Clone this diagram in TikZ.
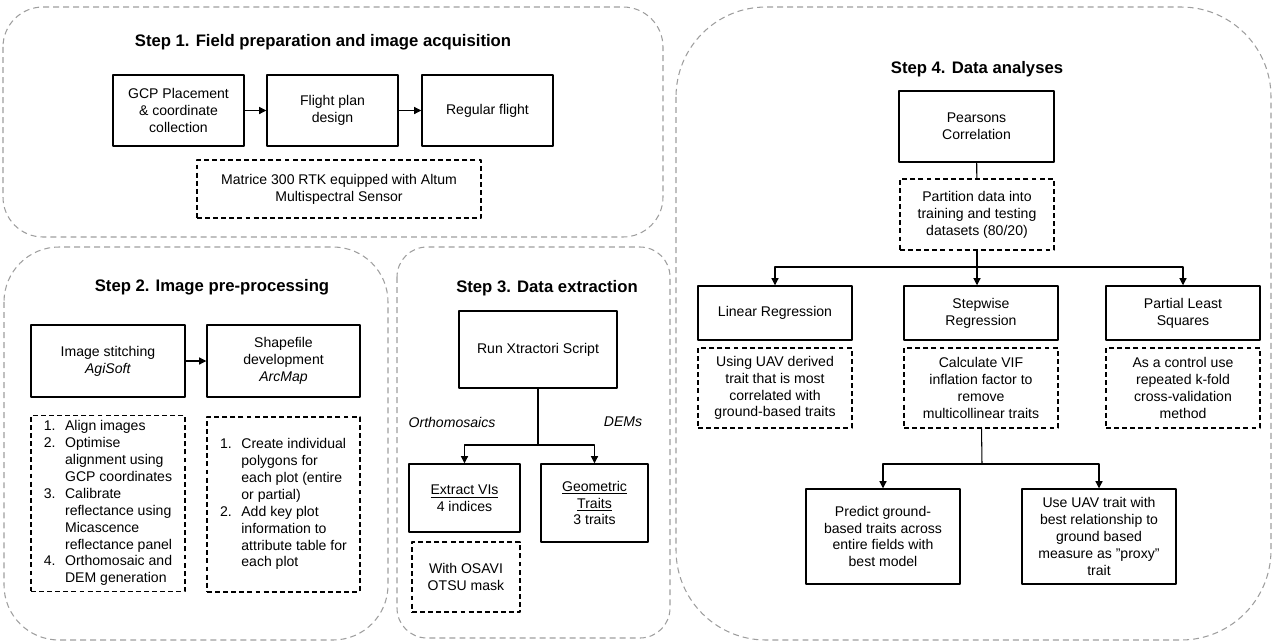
\documentclass[tikz,border=0pt]{standalone}
\usepackage{fontspec}
\setmainfont{Liberation Sans}
\usetikzlibrary{arrows.meta}

\begin{document}
\begin{tikzpicture}[x=0.02cm, y=-0.02cm, line join=round,
    font=\fontsize{8}{9.6}\selectfont,
    panel/.style={draw=black!38, line width=0.6pt, dash pattern=on 3.4pt off 2.3pt, rounded corners=#1},
    title/.style={font=\fontsize{9.5}{11}\selectfont\bfseries},
    box/.style={draw, line width=0.85pt, align=center, inner sep=2pt},
    dbox/.style={box, dash pattern=on 2.8pt off 1.8pt},
    arr/.style={-{Triangle[length=4pt,width=4pt]}, line width=0.6pt},
    link/.style={line width=0.6pt}]

    \useasboundingbox (0,0) rectangle (1275,643);

    % panels
    \draw[panel=0.8cm] (3,7) rectangle (663,237);
    \draw[panel=1.1cm] (4,247) rectangle (388,640);
    \draw[panel=0.6cm] (397,247) rectangle (670,638);
    \draw[panel=1.8cm] (676,7) rectangle (1271,640);

    % step 1
    \node[title] (t1) at (323,42) {Step 1. Field preparation and image acquisition};
    \node[box, minimum width=2.62cm, minimum height=1.42cm] (gcp) at (178.5,110.5) {GCP Placement\\\& coordinate\\collection};
    \node[box, minimum width=2.62cm, minimum height=1.42cm] (flight) at (332.5,110.5) {Flight plan\\design};
    \node[box, minimum width=2.62cm, minimum height=1.42cm] (regular) at (487.5,110.5) {Regular flight};
    \node[dbox, minimum width=5.68cm, minimum height=1.16cm] (matrice) at (339,189) {Matrice 300 RTK equipped with Altum\\Multispectral Sensor};

    \draw[arr] (gcp) -- (flight);
    \draw[arr] (flight) -- (regular);

    % step 2
    \node[title] (t2) at (212,287) {Step 2. Image pre-processing};
    \node[box, minimum width=3.08cm, minimum height=1.44cm] (stitch) at (108,361) {Image stitching\\\textit{AgiSoft}};
    \node[box, minimum width=3.06cm, minimum height=1.44cm] (shape) at (283.5,361) {Shapefile\\development\\\textit{ArcMap}};
    \node[dbox, minimum width=3.08cm, minimum height=3.46cm] (alignlist) at (108,503.5) {%
        \begin{tabular}{@{}l@{\hspace{0.19cm}}l@{}}
        1. & Align images\\
        2. & Optimise\\
           & alignment using\\
           & GCP coordinates\\
        3. & Calibrate\\
           & reflectance using\\
           & Micascence\\
           & reflectance panel\\
        4. & Orthomosaic and\\
           & DEM generation
        \end{tabular}};
    \node[dbox, minimum width=3.06cm, minimum height=3.5cm] (polylist) at (283.5,504.5) {%
        \begin{tabular}{@{}l@{\hspace{0.19cm}}l@{}}
        1. & Create individual\\
           & polygons for\\
           & each plot (entire\\
           & or partial)\\
        2. & Add key plot\\
           & information to\\
           & attribute table for\\
           & each plot
        \end{tabular}};

    \draw[arr] (stitch) -- (shape);

    % step 3
    \node[title] (t3) at (547,288) {Step 3. Data extraction};
    \node[box, minimum width=3.16cm, minimum height=1.54cm] (run) at (538,349.5) {Run Xtractori Script};
    \node[font=\fontsize{8}{9.6}\selectfont\itshape] (ortho) at (452,422) {Orthomosaics};
    \node[font=\fontsize{8}{9.6}\selectfont\itshape] (dems) at (623,422) {DEMs};
    \node[box, minimum width=2.22cm, minimum height=1.36cm] (vis) at (464.5,498) {\underline{Extract VIs}\\4 indices};
    \node[box, minimum width=2.14cm, minimum height=1.56cm] (geo) at (594.5,503) {\underline{Geometric}\\\underline{Traits}\\3 traits};
    \node[dbox, minimum width=2.16cm, minimum height=1.4cm] (osavi) at (466,577) {With OSAVI\\OTSU mask};

    \coordinate (split3) at (538,445);
    \draw[link] (run) -- (split3);
    \draw[arr] (split3) -| (vis.north);
    \draw[arr] (split3) -| (geo.north);

    % step 4
    \node[title] (t4) at (977,69) {Step 4. Data analyses};
    \node[box, minimum width=3.1cm, minimum height=1.42cm] (pearson) at (976.5,126.5) {Pearsons\\Correlation};
    \node[dbox, minimum width=3.08cm, minimum height=1.42cm] (partition) at (977,214.5) {Partition data into\\training and testing\\datasets (80/20)};
    \node[box, minimum width=3.08cm, minimum height=1.08cm] (linreg) at (775,313) {Linear Regression};
    \node[box, minimum width=3.08cm, minimum height=1.08cm] (stepreg) at (981,313) {Stepwise\\Regression};
    \node[box, minimum width=3.08cm, minimum height=1.08cm] (pls) at (1183,313) {Partial Least\\Squares};
    \node[dbox, minimum width=3.08cm, minimum height=1.6cm] (linnote) at (775,388) {Using UAV derived\\trait that is most\\correlated with\\ground-based traits};
    \node[dbox, minimum width=3.08cm, minimum height=1.6cm] (stepnote) at (981,388) {Calculate VIF\\inflation factor to\\remove\\multicollinear traits};
    \node[dbox, minimum width=3.08cm, minimum height=1.6cm] (plsnote) at (1183,388) {As a control use\\repeated k-fold\\cross-validation\\method};
    \node[box, minimum width=3.08cm, minimum height=1.9cm] (predict) at (883,536.5) {Predict ground-\\based traits across\\entire fields with\\best model};
    \node[box, minimum width=3.08cm, minimum height=1.9cm] (useuav) at (1099,536.5) {Use UAV trait with\\best relationship to\\ground based\\measure as {\char34}proxy{\char34}\\trait};

    \draw[link] (pearson) -- (partition);
    \coordinate (split4) at (977,267);
    \draw[link] (partition) -- (split4);
    \draw[arr] (split4) -| (linreg.north);
    \draw[arr] (split4) -- (split4 |- stepreg.north);
    \draw[arr] (split4) -| (pls.north);

    \coordinate (split5) at (982,464);
    \draw[link] (stepnote) -- (split5);
    \draw[arr] (split5) -| (predict.north);
    \draw[arr] (split5) -| (useuav.north);

\end{tikzpicture}
\end{document}
